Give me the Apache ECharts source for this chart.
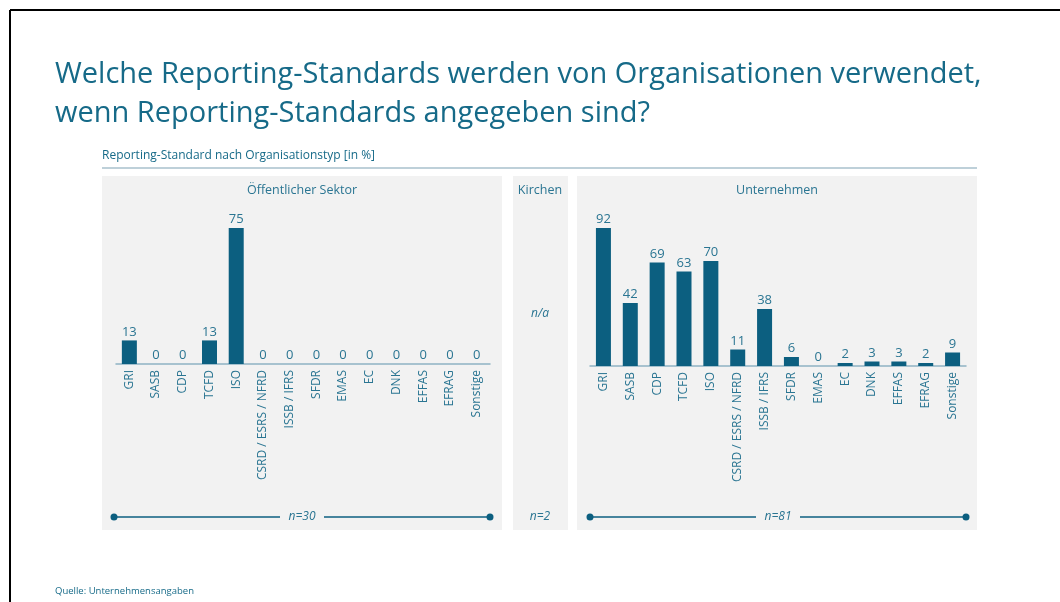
<!DOCTYPE html>
<html lang="de">
<head>
<meta charset="UTF-8">
<title>Reporting-Standards</title>
<script src="https://cdn.jsdelivr.net/npm/echarts@6/dist/echarts.min.js"></script>
<style>
  html, body { margin: 0; padding: 0; background: #fff; }
  #chart { width: 1060px; height: 602px; }
</style>
</head>
<body>
<div id="chart"></div>
<script>
// Daten
var standards = ['GRI', 'SASB', 'CDP', 'TCFD', 'ISO', 'CSRD / ESRS / NFRD', 'ISSB / IFRS',
                 'SFDR', 'EMAS', 'EC', 'DNK', 'EFFAS', 'EFRAG', 'Sonstige'];
var oeffentlich = [13, 0, 0, 13, 75, 0, 0, 0, 0, 0, 0, 0, 0, 0];
var unternehmen = [92, 42, 69, 63, 70, 11, 38, 6, 0, 2, 3, 3, 2, 9];
var panelTitles = ['Öffentlicher Sektor', 'Kirchen', 'Unternehmen'];
var sampleSizes = ['n=30', 'n=2', 'n=81'];

var teal = '#166a88';
var barColor = '#0c5f80';
var textColor = '#2a7592';
var font = 'Open Sans';

var chart = echarts.init(document.getElementById('chart'));

function nLine(x1, x2, y, label) {
    var mid = (x1 + x2) / 2;
    return [
        { type: 'line', shape: { x1: x1, y1: y, x2: mid - 22, y2: y }, style: { stroke: barColor, lineWidth: 1.5 } },
        { type: 'line', shape: { x1: mid + 22, y1: y, x2: x2, y2: y }, style: { stroke: barColor, lineWidth: 1.5 } },
        { type: 'circle', shape: { cx: x1, cy: y, r: 3.5 }, style: { fill: barColor } },
        { type: 'circle', shape: { cx: x2, cy: y, r: 3.5 }, style: { fill: barColor } },
        { type: 'text', x: mid, y: y, style: { text: label, fill: textColor, font: 'italic 12px ' + font, align: 'center', verticalAlign: 'middle' } }
    ];
}

function axisPair(idx) {
    return {
        x: {
            type: 'category', gridIndex: idx, data: standards,
            axisLine: { lineStyle: { color: '#8fb3c4', width: 1.5 } },
            axisTick: { show: false },
            axisLabel: { rotate: 90, interval: 0, margin: 6, color: textColor, fontSize: 12, fontFamily: font }
        },
        y: {
            type: 'value', gridIndex: idx, min: 0, max: 'dataMax',
            show: false, splitLine: { show: false }
        }
    };
}
var a0 = axisPair(0), a1 = axisPair(1);

function barSeries(idx, data) {
    return {
        type: 'bar', xAxisIndex: idx, yAxisIndex: idx, data: data,
        barWidth: 15, itemStyle: { color: barColor },
        label: { show: true, position: 'top', distance: 2, color: textColor, fontSize: 13, fontFamily: font },
        silent: true
    };
}

function heading(text, x, y, size, align) {
    return { text: text, left: x, top: y, textAlign: align || 'left', padding: 0,
             textStyle: { color: textColor, fontSize: size, fontWeight: 'normal', fontFamily: font } };
}

var graphics = [
    // Rahmen
    { type: 'line', shape: { x1: 10, y1: 10, x2: 1060, y2: 10 }, style: { stroke: '#000', lineWidth: 2 } },
    { type: 'line', shape: { x1: 10, y1: 10, x2: 10, y2: 602 }, style: { stroke: '#000', lineWidth: 2 } },
    // Trennlinie unter dem Untertitel
    { type: 'line', shape: { x1: 102, y1: 168, x2: 977, y2: 168 }, style: { stroke: '#a9c0cc', lineWidth: 1.5 } },
    // Panels
    { type: 'rect', z: -10, shape: { x: 102, y: 176, width: 400, height: 354 }, style: { fill: '#f2f2f2' } },
    { type: 'rect', z: -10, shape: { x: 513, y: 176, width: 55, height: 354 }, style: { fill: '#f2f2f2' } },
    { type: 'rect', z: -10, shape: { x: 577, y: 176, width: 400, height: 354 }, style: { fill: '#f2f2f2' } },
    { type: 'text', x: 540, y: 314, style: { text: 'n/a', fill: textColor, font: 'italic 12px ' + font, align: 'center', verticalAlign: 'middle' } },
    { type: 'text', x: 540, y: 517, style: { text: sampleSizes[1], fill: textColor, font: 'italic 12px ' + font, align: 'center', verticalAlign: 'middle' } }
].concat(nLine(114, 490, 517, sampleSizes[0]), nLine(590, 966, 517, sampleSizes[2]));

var mainTitle = heading('Welche Reporting-Standards werden von Organisationen verwendet,\nwenn Reporting-Standards angegeben sind?', 55, 55, 29);
mainTitle.textStyle.color = teal;
mainTitle.textStyle.lineHeight = 39;
var subTitle = heading('Reporting-Standard nach Organisationstyp [in %]', 102, 150, 12);
subTitle.textStyle.color = teal;
var source = heading('Quelle: Unternehmensangaben', 55, 586, 9.5);
source.textStyle.color = teal;

var option = {
    backgroundColor: '#fff',
    animation: false,
    title: [
        mainTitle,
        subTitle,
        heading(panelTitles[0], 302, 184, 12.5, 'center'),
        heading(panelTitles[1], 540, 184, 12.5, 'center'),
        heading(panelTitles[2], 777, 184, 12.5, 'center'),
        source
    ],
    grid: [
        { left: 116, width: 374, top: 228, height: 136 },
        { left: 590, width: 376, top: 228, height: 138 }
    ],
    xAxis: [a0.x, a1.x],
    yAxis: [a0.y, a1.y],
    series: [barSeries(0, oeffentlich), barSeries(1, unternehmen)],
    graphic: graphics
};
chart.setOption(option);
</script>
</body>
</html>
